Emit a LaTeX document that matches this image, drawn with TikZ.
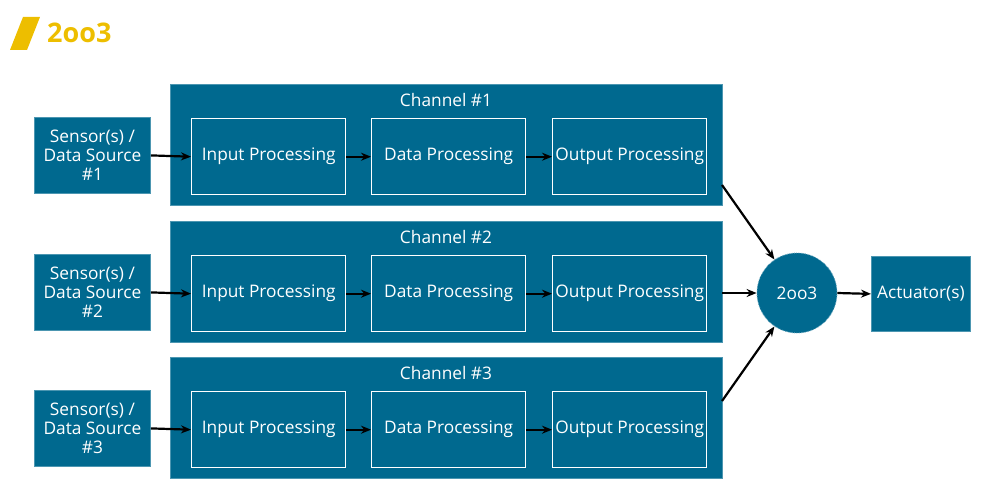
\documentclass[tikz,border=0pt]{standalone}
\usepackage{fontspec}
\setmainfont{Open Sans}
\usetikzlibrary{arrows.meta,calc}
\definecolor{chblue}{HTML}{00698F}
\definecolor{chyellow}{HTML}{EDBE00}
\begin{document}
\begin{tikzpicture}[x=1pt,y=-1pt,
  box/.style={fill=chblue,draw=chblue!70!white,line width=0.8pt,text=white,font=\fontsize{17.3}{19}\selectfont,align=center,inner sep=0pt},
  inner/.style={draw=white,line width=1.4pt,text=white,font=\fontsize{17.3}{20}\selectfont,minimum width=154pt,minimum height=76pt,inner sep=0pt},
  conn/.style={-{Stealth[length=10pt,width=8pt]},line width=2.2pt,black}]
\useasboundingbox (0,0) rectangle (987,484);
% title
\fill[chyellow] (23,17) -- (40,17) -- (27,50) -- (10,50) -- cycle;
\node[anchor=west,text=chyellow,font=\fontsize{27}{30}\selectfont\bfseries,inner sep=0pt] (title) at (47,33) {2oo3};
% channels
\foreach \i/\cy/\sy in {1/84/117,2/221/254,3/357/390}{
  \node[box,minimum width=552pt,minimum height=121pt,anchor=north west] (ch\i) at (170,\cy) {};
  \node[text=white,font=\fontsize{17.3}{20}\selectfont,inner sep=0pt] (chl\i) at (446,\cy+16) {Channel \#\i};
  \node[box,minimum width=116pt,minimum height=76pt,anchor=north west] (s\i) at (34,\sy) {Sensor(s) /\\Data Source\\\#\i};
  \node[inner,anchor=north west] (in\i) at (191,\sy+1) {Input Processing};
  \node[inner,anchor=north west] (dp\i) at (371,\sy+1) {Data Processing};
  \node[inner,anchor=north west] (op\i) at (552,\sy+1) {Output Processing};
  \draw[conn] (s\i.east) -- (in\i.west);
  \draw[conn] (in\i.east) -- (dp\i.west);
  \draw[conn] (dp\i.east) -- (op\i.west);
}
% voter
\node[circle,fill=chblue,draw=chblue!60!white,densely dotted,line width=0.8pt,minimum size=80pt,inner sep=0pt,text=white,font=\fontsize{17.3}{20}\selectfont] (v) at (797,293) {2oo3};
\node[box,minimum width=99pt,minimum height=75pt,anchor=north west] (act) at (871,256) {Actuator(s)};
\coordinate (o1) at (722,185);
\coordinate (o2) at (722,293);
\coordinate (o3) at (722,401);
\draw[conn] (o1) -- (v.124);
\draw[conn] (o2) -- (v.west);
\draw[conn] (o3) -- (v.236);
\draw[conn] (v.east) -- (act.west);
\end{tikzpicture}
\end{document}
